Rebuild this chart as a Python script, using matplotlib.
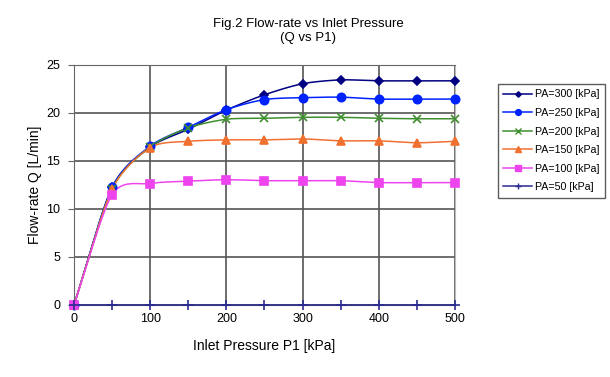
import matplotlib
matplotlib.use("Agg")
import matplotlib.pyplot as plt
import numpy as np
from matplotlib.lines import Line2D

plt.rcParams['font.family'] = ['Liberation Sans', 'DejaVu Sans']

p1 = [0, 50, 100, 150, 200, 250, 300, 350, 400, 450, 500]
q_pa300 = [0, 12.25, 16.45, 18.3, 20.3, 21.9, 23.05, 23.45, 23.35, 23.35, 23.35]
q_pa250 = [0, 12.25, 16.55, 18.5, 20.35, 21.4, 21.6, 21.65, 21.45, 21.45, 21.45]
q_pa200 = [0, 12.1, 16.45, 18.45, 19.35, 19.45, 19.55, 19.55, 19.45, 19.4, 19.4]
q_pa150 = [0, 12.05, 16.4, 17.05, 17.2, 17.2, 17.3, 17.1, 17.1, 16.9, 17.05]
q_pa100 = [0, 11.5, 12.65, 12.9, 13.05, 12.95, 12.95, 12.95, 12.75, 12.75, 12.75]
q_pa50 = [0, 0, 0, 0, 0, 0, 0, 0, 0, 0, 0]
labels = ["PA=300 [kPa]", "PA=250 [kPa]", "PA=200 [kPa]",
          "PA=150 [kPa]", "PA=100 [kPa]", "PA=50 [kPa]"]


def smooth(x, y, n=20, k=0.8):
    # Catmull-Rom style spline (slightly reduced tension), like Excel's smoothed line
    x = np.asarray(x, float)
    y = np.asarray(y, float)
    px = np.concatenate([[2 * x[0] - x[1]], x, [2 * x[-1] - x[-2]]])
    py = np.concatenate([[2 * y[0] - y[1]], y, [2 * y[-1] - y[-2]]])
    xs, ys = [], []
    t = np.linspace(0, 1, n, endpoint=False)
    h00 = 2 * t ** 3 - 3 * t ** 2 + 1
    h10 = t ** 3 - 2 * t ** 2 + t
    h01 = -2 * t ** 3 + 3 * t ** 2
    h11 = t ** 3 - t ** 2
    for i in range(1, len(px) - 2):
        for arr, out in ((px, xs), (py, ys)):
            m1 = k * 0.5 * (arr[i + 1] - arr[i - 1])
            m2 = k * 0.5 * (arr[i + 2] - arr[i])
            out.append(h00 * arr[i] + h10 * m1 + h01 * arr[i + 1] + h11 * m2)
    xs.append([x[-1]])
    ys.append([y[-1]])
    return np.concatenate(xs), np.concatenate(ys)


series = [q_pa300, q_pa250, q_pa200, q_pa150, q_pa100, q_pa50]
colors = ["#000080", "#0022ff", "#3f8f2f", "#f07030", "#ee44ee", "#2a2a90"]
markers = ["D", "o", "x", "^", "s", "+"]
msizes = [4, 6, 6, 6, 6, 7]

fig = plt.figure(figsize=(6.1, 3.77), dpi=100)
ax = fig.add_axes([0.1213, 0.191, 0.6246, 0.6366])

handles = []
for y, c, m, ms, lab in zip(series, colors, markers, msizes, labels):
    sx, sy = smooth(p1, y)
    ax.plot(sx, sy, color=c, lw=1.1, zorder=3, clip_on=False)
    ax.plot(p1, y, ls="none", marker=m, color=c, ms=ms, mew=1.2,
            zorder=4, clip_on=False)
    handles.append(Line2D([], [], color=c, lw=1.1, marker=m,
                          ms=ms * 0.7, mew=1.0))

ax.set_xlim(0, 500)
ax.set_ylim(0, 25)
ax.set_xticks(range(0, 501, 100))
ax.set_yticks(range(0, 26, 5))
ax.grid(True, color="#555555", lw=1.2)
ax.set_axisbelow(True)
for s in ["left", "top", "bottom"]:
    ax.spines[s].set_color("#666666")
ax.spines["right"].set_color("#bbbbbb")
ax.tick_params(axis="x", length=0, pad=6, labelsize=9)
ax.tick_params(axis="y", length=4, color="#666666", pad=6, labelsize=9)

ax.set_xlabel("Inlet Pressure P1 [kPa]", fontsize=10, labelpad=10)
ax.set_ylabel("Flow-rate Q [L/min]", fontsize=10, labelpad=3)
fig.text(0.505, 0.917, "Fig.2 Flow-rate vs Inlet Pressure\n(Q vs P1)",
         ha="center", va="center", fontsize=9.5, linespacing=1.2)

leg = fig.legend(handles, labels, loc="upper left",
                 bbox_to_anchor=(0.816, 0.777), borderaxespad=0,
                 fontsize=7.7, frameon=True, fancybox=False,
                 edgecolor="#333333", handlelength=2.7, labelspacing=0.8,
                 borderpad=0.5, handletextpad=0.3)
leg.get_frame().set_linewidth(1.0)

fig.savefig("out.png", dpi=100)
